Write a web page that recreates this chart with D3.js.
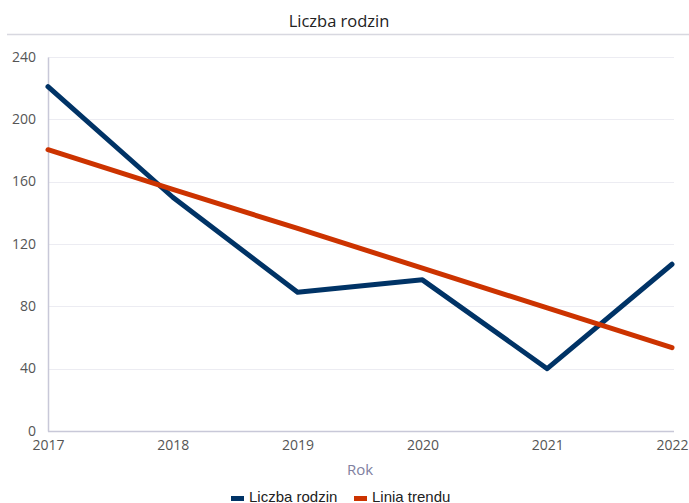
<!DOCTYPE html>
<html><head><meta charset="utf-8">
<script src="https://cdn.jsdelivr.net/npm/d3@7"></script>
<style>body{margin:0;background:#fff}svg{display:block}</style>
</head><body>
<svg id="c" width="689" height="503"></svg>
<script>
const years = [2017, 2018, 2019, 2020, 2021, 2022];
const families = [221, 150, 89, 97, 40, 107];
const trend = [180.5, 155, 130, 104.5, 79, 53.5];
const yTicks = [0, 40, 80, 120, 160, 200, 240];
const seriesNames = ["Liczba rodzin", "Linia trendu"];
const colors = ["#003366", "#cc3300"];

const svg = d3.select("#c");
const W = 689, H = 503;
const m = {l: 48, r: 17, t: 57, b: 72};
const x = d3.scaleLinear().domain([2017, 2022]).range([m.l, W - m.r]);
const y = d3.scaleLinear().domain([0, 240]).range([H - m.b, m.t]);

// title
svg.append("text").attr("x", 339).attr("y", 27).attr("text-anchor", "middle")
  .attr("font-family", "Open Sans, sans-serif").attr("font-size", 16.5).attr("fill", "#222")
  .text("Liczba rodzin");
svg.append("line").attr("x1", 7).attr("x2", 689).attr("y1", 34.5).attr("y2", 34.5)
  .attr("stroke", "#d8d8e0").attr("stroke-width", 1.5);

// grid
svg.append("g").selectAll("line").data(yTicks.filter(d => d > 0)).join("line")
  .attr("x1", m.l).attr("x2", W - m.r + 2)
  .attr("y1", d => Math.round(y(d)) + 0.5).attr("y2", d => Math.round(y(d)) + 0.5)
  .attr("stroke", "#ececf2").attr("stroke-width", 1);

// y axis
const ya = svg.append("g").attr("transform", `translate(${m.l},0)`)
  .call(d3.axisLeft(y).tickValues(yTicks).tickSize(0).tickPadding(12));
ya.select(".domain").attr("stroke", "#c8c8d8").attr("stroke-width", 1.5);
ya.selectAll("text").attr("font-family", "Open Sans, sans-serif").attr("font-size", 14).attr("fill", "#555")
  .attr("dy", "0.3em");

// x axis
const xa = svg.append("g").attr("transform", `translate(0,${y(0)})`)
  .call(d3.axisBottom(x).tickValues(years).tickFormat(d3.format("d")).tickSize(0).tickPadding(9));
xa.select(".domain").attr("stroke", "#c8c8d8").attr("stroke-width", 1.5).attr("d", `M${m.l},0.5H${W - m.r + 2}`);
xa.selectAll("text").attr("font-family", "Open Sans, sans-serif").attr("font-size", 14).attr("fill", "#555");

svg.append("text").attr("x", 360).attr("y", 475).attr("text-anchor", "middle")
  .attr("font-family", "Open Sans, sans-serif").attr("font-size", 15).attr("fill", "#8080a0").text("Rok");

// lines
const line = d3.line().x((d, i) => x(years[i])).y(d => y(d));
[families, trend].forEach((s, k) => {
  svg.append("path").datum(s).attr("d", line).attr("fill", "none")
    .attr("stroke", colors[k]).attr("stroke-width", 5).attr("stroke-linecap", "round").attr("stroke-linejoin", "round");
});

// legend
const lg = svg.append("g");
const lx = [231, 354];
seriesNames.forEach((n, k) => {
  lg.append("rect").attr("x", lx[k]).attr("y", 496).attr("width", 13).attr("height", 5).attr("fill", colors[k]);
  lg.append("text").attr("x", lx[k] + 18).attr("y", 502).attr("font-family", "Liberation Sans, Arial, sans-serif")
    .attr("font-size", 15).attr("fill", "#222").text(n);
});
</script>
</body></html>
